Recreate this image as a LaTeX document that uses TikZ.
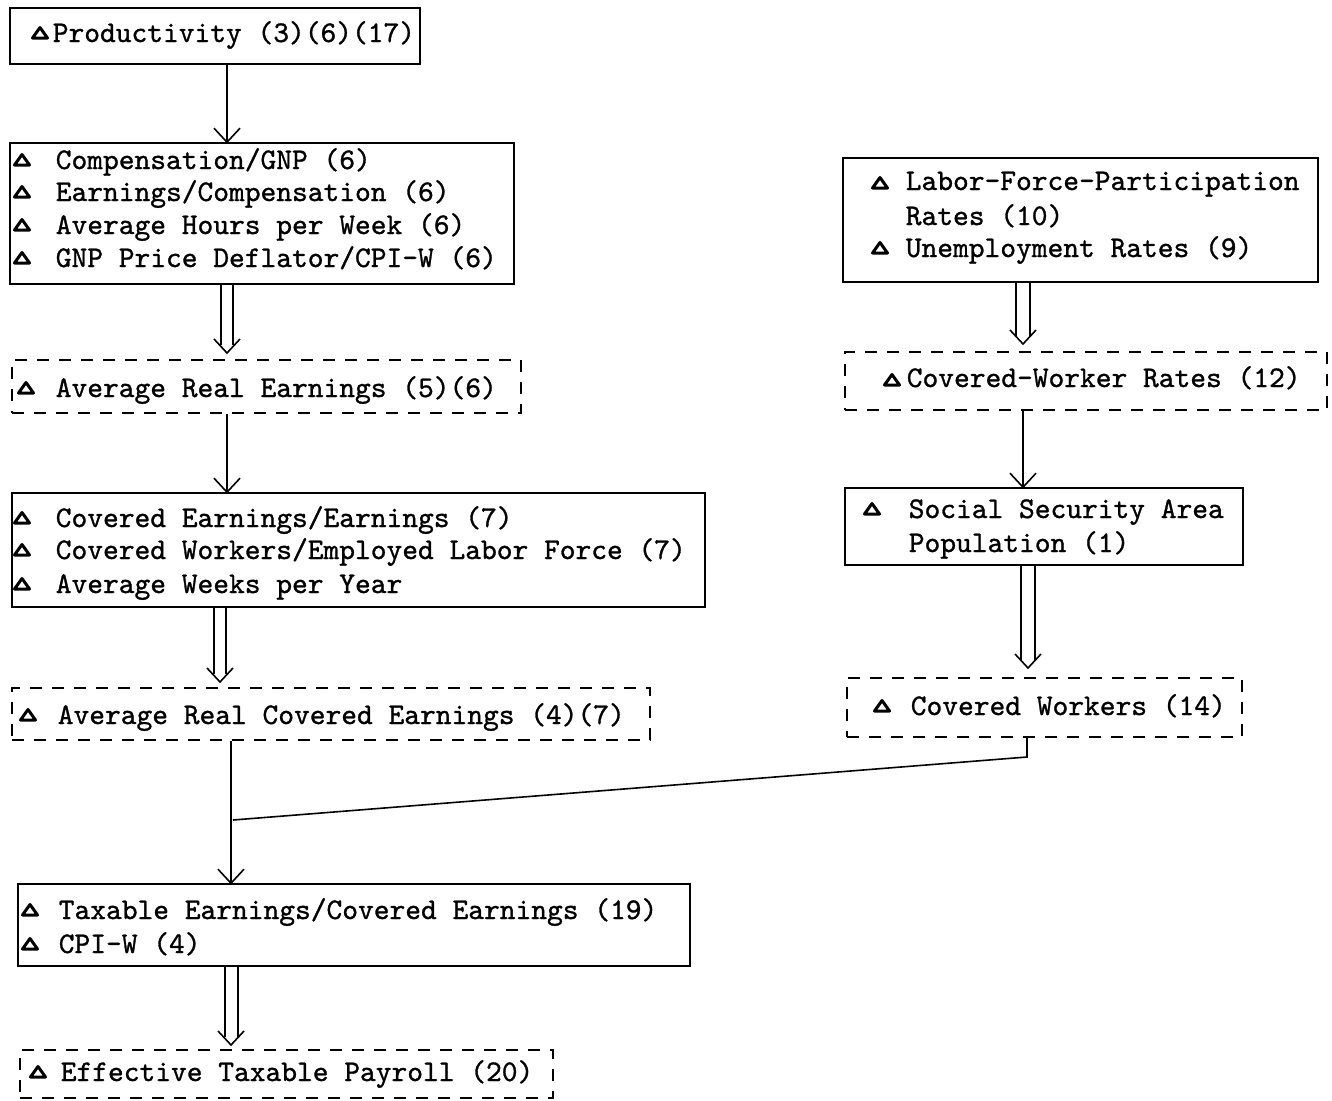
\documentclass[tikz,border=0pt]{standalone}
\usepackage{fontspec}
\newfontfamily\tw{lmmono10-regular.otf}[FakeBold=1.0]
\usetikzlibrary{calc,fit}
\begin{document}
\begin{tikzpicture}[x=1pt,y=-1pt,line width=1.6pt,
  box/.style={draw,line width=1.6pt,inner sep=0pt},
  dbox/.style={box,dash pattern=on 12pt off 10pt},
  txt/.style={anchor=base west,inner sep=0pt,font=\fontsize{30}{36}\selectfont\tw},
  tri/.pic={\draw[line width=3pt,line join=round,fill=white] (-7.5,5) -- (7.5,5) -- (0,-5.5) -- cycle;},
  vtip/.pic={\draw[line width=1.6pt] (-13,-14) -- (0,0) -- (13,-14);}
  ]
\useasboundingbox[fill=white] (0,0) rectangle (1332,1100);
% boxes
\node[box, fit={(10,8) (420,64)}] (b1) {};
\node[box, fit={(10,143) (514,284)}] (b2) {};
\node[dbox,fit={(12,360) (521,413)}] (b3) {};
\node[box, fit={(12,493) (705,607)}] (b4) {};
\node[dbox,fit={(12,688) (650,740)}] (b5) {};
\node[box, fit={(18,884) (690,966)}] (b6) {};
\node[dbox,fit={(20,1050) (553,1098)}] (b7) {};
\node[box, fit={(843,158) (1318,282)}] (r1) {};
\node[dbox,fit={(845,352) (1327,410)}] (r2) {};
\node[box, fit={(845,488) (1243,565)}] (r3) {};
\node[dbox,fit={(847,678) (1242,737)}] (r4) {};
% texts
\pic at (40,33) {tri};
\node[txt] (t1) at (52,42) {Productivity (3)(6)(17)};
\pic at (22,160) {tri};
\pic at (22,192) {tri};
\pic at (22,225) {tri};
\pic at (22,258) {tri};
\node[txt] (t2a) at (55,169) {Compensation/GNP (6)};
\node[txt] (t2b) at (55,201) {Earnings/Compensation (6)};
\node[txt] (t2c) at (55,234) {Average Hours per Week (6)};
\node[txt] (t2d) at (55,267) {GNP Price Deflator/CPI-W (6)};
\pic at (26,388) {tri};
\node[txt] (t3) at (55,397) {Average Real Earnings (5)(6)};
\pic at (22,518) {tri};
\pic at (22,550) {tri};
\pic at (22,584) {tri};
\node[txt] (t4a) at (55,527) {Covered Earnings/Earnings (7)};
\node[txt] (t4b) at (55,559) {Covered Workers/Employed Labor Force (7)};
\node[txt] (t4c) at (55,593) {Average Weeks per Year};
\pic at (28,715) {tri};
\node[txt] (t5) at (57,724) {Average Real Covered Earnings (4)(7)};
\pic at (30,910) {tri};
\pic at (30,944) {tri};
\node[txt] (t6a) at (58,919) {Taxable Earnings/Covered Earnings (19)};
\node[txt] (t6b) at (58,953) {CPI-W (4)};
\pic at (38,1072) {tri};
\node[txt] (t7) at (60,1081) {Effective Taxable Payroll (20)};
\pic at (880,183) {tri};
\pic at (880,248) {tri};
\node[txt] (u1a) at (905,190) {Labor-Force-Participation};
\node[txt] (u1b) at (905,225) {Rates (10)};
\node[txt] (u1c) at (905,257) {Unemployment Rates (9)};
\pic at (892,380) {tri};
\node[txt] (u2) at (906,387) {Covered-Worker Rates (12)};
\pic at (872,509) {tri};
\node[txt] (u3a) at (908,518) {Social Security Area};
\node[txt] (u3b) at (908,552) {Population (1)};
\pic at (882,706) {tri};
\node[txt] (u4) at (910,715) {Covered Workers (14)};
% connectors
\draw (b1.south -| 227,0) -- (b2.north -| 227,0);
\pic at (b2.north -| 227,0) {vtip};
\draw (b2.south -| 221,0) -- (221,345) (b2.south -| 233,0) -- (233,345);
\pic at (227,353) {vtip};
\draw (b3.south -| 227,0) -- (b4.north -| 227,0);
\pic at (b4.north -| 227,0) {vtip};
\draw (b4.south -| 214,0) -- (214,674) (b4.south -| 226,0) -- (226,674);
\pic at (220,682) {vtip};
\coordinate (j) at (233,820);
\draw (b5.south -| 231,0) -- (b6.north -| 231,0);
\pic at (b6.north -| 231,0) {vtip};
\draw (r4.south -| 1027,0) -- (1027,757) -- (j);
\draw (b6.south -| 225,0) -- (225,1037) (b6.south -| 238,0) -- (238,1037);
\pic at (231,1045) {vtip};
\draw (r1.south -| 1016,0) -- (1016,336) (r1.south -| 1030,0) -- (1030,336);
\pic at (1023,344) {vtip};
\draw (r2.south -| 1023,0) -- (r3.north -| 1023,0);
\pic at (r3.north -| 1023,0) {vtip};
\draw (r3.south -| 1021,0) -- (1021,660) (r3.south -| 1035,0) -- (1035,660);
\pic at (1028,668) {vtip};
\end{tikzpicture}
\end{document}
